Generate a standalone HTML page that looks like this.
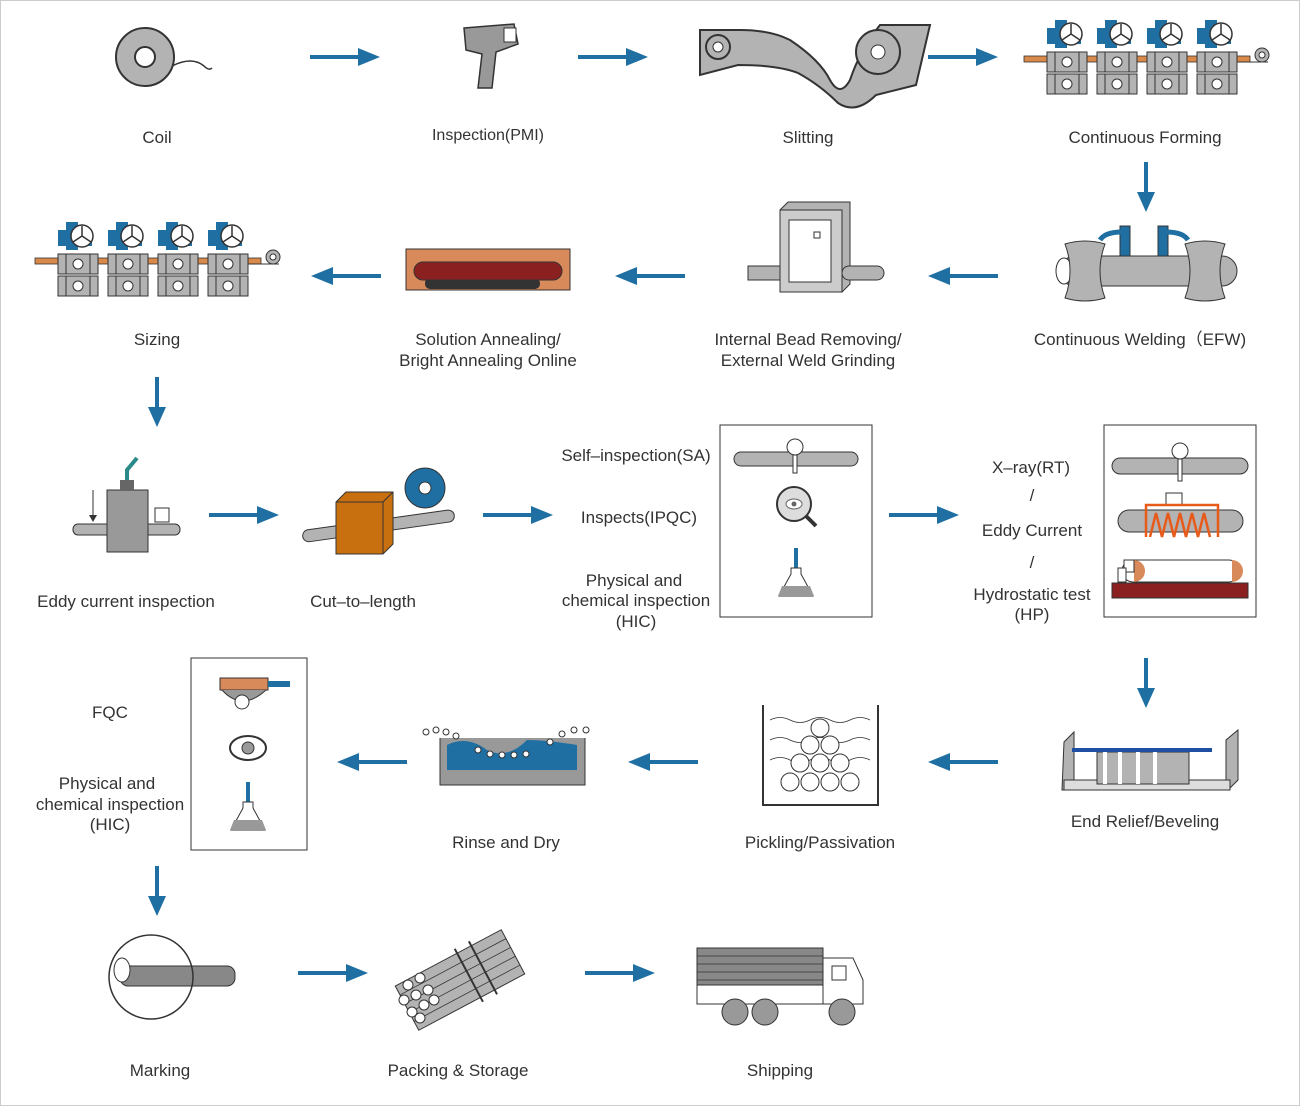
<!DOCTYPE html>
<html><head><meta charset="utf-8"><style>
html,body{margin:0;padding:0;background:#fff}
svg{display:block}
text{font-family:"Liberation Sans",sans-serif;font-size:17px;fill:#333}
</style></head><body>
<svg width="1300" height="1106" viewBox="0 0 1300 1106" xmlns="http://www.w3.org/2000/svg">
<defs>
<g id="ar"><rect x="0" y="-2" width="52" height="4" fill="#1f6fa3"/><polygon points="48,-9 70,0 48,9" fill="#1f6fa3"/></g>
<g id="ad"><rect x="-2" y="0" width="4" height="34" fill="#1f6fa3"/><polygon points="-9,30 9,30 0,50" fill="#1f6fa3"/></g>
<g id="unit">
<path d="M8,0 h12 v8 h14 v16 h-14 v4 h-12 v-4 h-8 v-16 h8z" fill="#1f6fa3"/>
<circle cx="24" cy="14" r="11" fill="#fff" stroke="#333" stroke-width="1.5"/>
<path d="M24,14 v-10 M24,14 l-9,6 M24,14 l9,6" stroke="#333" stroke-width="1.5"/>
<rect x="0" y="32" width="40" height="20" fill="#b3b3b3" stroke="#333"/>
<rect x="0" y="54" width="40" height="20" fill="#b3b3b3" stroke="#333"/>
<path d="M8,32 v20 M32,32 v20 M8,54 v20 M32,54 v20" stroke="#333"/>
<circle cx="20" cy="42" r="5" fill="#fff" stroke="#333"/><circle cx="20" cy="64" r="5" fill="#fff" stroke="#333"/>
</g>
<g id="rolls">
<rect x="0" y="39" width="226" height="6" fill="#d98a4a" stroke="#333" stroke-width=".8"/>
<use href="#unit" x="23" y="3"/><use href="#unit" x="73" y="3"/><use href="#unit" x="123" y="3"/><use href="#unit" x="173" y="3"/>
<circle cx="238" cy="38" r="7" fill="#b3b3b3" stroke="#333"/><circle cx="238" cy="38" r="3" fill="#fff" stroke="#333"/>
<path d="M214,45 H244" stroke="#333"/>
</g>
<g id="pipe"><rect x="0" y="0" width="124" height="14" rx="7" fill="#b3b3b3" stroke="#333"/><ellipse cx="6" cy="7" rx="4" ry="7" fill="#b3b3b3" stroke="#333"/></g>
<g id="flask"><rect x="-2" y="0" width="4" height="26" fill="#1f6fa3"/><path d="M-5,20 h10 v6 l12,22 h-34 l12,-22z" fill="#fff" stroke="#333"/><path d="M-14,38 h28 l4,10 h-36z" fill="#999"/></g>
</defs>
<rect x=".5" y=".5" width="1299" height="1105" fill="#fff" stroke="#ccc"/>

<!-- arrows -->
<use href="#ar" x="310" y="57"/><use href="#ar" x="578" y="57"/><use href="#ar" x="928" y="57"/>
<use href="#ad" x="1146" y="162"/>
<use href="#ar" transform="translate(998,276) scale(-1,1)"/><use href="#ar" transform="translate(685,276) scale(-1,1)"/><use href="#ar" transform="translate(381,276) scale(-1,1)"/>
<use href="#ad" x="157" y="377"/>
<use href="#ar" x="209" y="515"/><use href="#ar" x="483" y="515"/><use href="#ar" x="889" y="515"/>
<use href="#ad" x="1146" y="658"/>
<use href="#ar" transform="translate(998,762) scale(-1,1)"/><use href="#ar" transform="translate(698,762) scale(-1,1)"/><use href="#ar" transform="translate(407,762) scale(-1,1)"/>
<use href="#ad" x="157" y="866"/>
<use href="#ar" x="298" y="973"/><use href="#ar" x="585" y="973"/>

<!-- coil -->
<circle cx="145" cy="57" r="29" fill="#b3b3b3" stroke="#333" stroke-width="2"/><circle cx="145" cy="57" r="10" fill="#fff" stroke="#333" stroke-width="2"/>
<path d="M172,66 q20,-10 32,0 q5,5 8,2" fill="none" stroke="#333" stroke-width="1.5"/>
<!-- gun -->
<path d="M464,28 l50,-4 l4,20 l-22,8 l-4,36 h-14 l4,-34 l-16,-4z" fill="#999" stroke="#333" stroke-width="1.5"/><rect x="504" y="28" width="12" height="14" fill="#fff" stroke="#333"/>
<!-- slitting -->
<path d="M700,30 l40,0 q30,0 50,10 q30,20 40,40 q10,18 20,0 q10,-30 30,-55 l50,0 l-14,60 l-40,10 q-20,20 -38,8 q-18,-18 -40,-30 q-20,-8 -60,-8 l-38,10z" fill="#b3b3b3" stroke="#333" stroke-width="2"/>
<circle cx="718" cy="47" r="12" fill="#b3b3b3" stroke="#333" stroke-width="2"/><circle cx="718" cy="47" r="5" fill="#fff" stroke="#333"/>
<circle cx="878" cy="52" r="22" fill="#b3b3b3" stroke="#333" stroke-width="2"/><circle cx="878" cy="52" r="7" fill="#fff" stroke="#333"/>
<!-- forming & sizing -->
<use href="#rolls" x="1024" y="17"/>
<use href="#rolls" x="35" y="219"/>
<!-- welding -->
<rect x="1060" y="256" width="177" height="30" rx="15" fill="#b3b3b3" stroke="#333"/><ellipse cx="1064" cy="271" rx="8" ry="13" fill="#fff" stroke="#333"/>
<path d="M1065,244 q20,-6 40,0 q-10,27 0,54 q-20,6 -40,0 q10,-27 0,-54z" fill="#b3b3b3" stroke="#333"/>
<path d="M1185,244 q20,-6 40,0 q-10,27 0,54 q-20,6 -40,0 q10,-27 0,-54z" fill="#b3b3b3" stroke="#333"/>
<rect x="1120" y="226" width="10" height="30" fill="#1f6fa3" stroke="#333"/><rect x="1158" y="226" width="10" height="30" fill="#1f6fa3" stroke="#333"/>
<path d="M1100,240 q5,-8 22,-8 M1188,240 q-5,-8 -22,-8" stroke="#1f6fa3" stroke-width="5" fill="none"/>
<!-- bead removing -->
<path d="M780,210 l8,-8 h62 v82 l-8,8z" fill="#b3b3b3" stroke="#333"/><rect x="780" y="210" width="62" height="82" fill="#ccc" stroke="#333"/>
<rect x="789" y="220" width="42" height="62" fill="#fff" stroke="#333"/><rect x="814" y="232" width="6" height="6" fill="#fff" stroke="#333"/>
<rect x="748" y="266" width="32" height="14" fill="#b3b3b3" stroke="#333"/><rect x="842" y="266" width="42" height="14" rx="7" fill="#b3b3b3" stroke="#333"/>
<!-- annealing -->
<rect x="406" y="249" width="164" height="41" fill="#d98a5a" stroke="#333"/>
<rect x="425" y="278" width="115" height="11" rx="5" fill="#333"/>
<rect x="414" y="262" width="148" height="18" rx="9" fill="#8b2020" stroke="#333"/>
<!-- eddy -->
<rect x="73" y="524" width="107" height="11" rx="5" fill="#b3b3b3" stroke="#333"/>
<rect x="107" y="490" width="41" height="62" fill="#999" stroke="#333"/><rect x="120" y="480" width="14" height="10" fill="#666"/><path d="M127,480 v-10 l10,-12" stroke="#2a8a8a" stroke-width="4" fill="none"/>
<rect x="155" y="508" width="14" height="14" fill="#fff" stroke="#333"/><path d="M93,490 v30" stroke="#333"/><polygon points="89,515 97,515 93,522" fill="#333"/>
<!-- cut -->
<rect x="302" y="520" width="153" height="12" rx="6" fill="#b3b3b3" stroke="#333" transform="rotate(-8 378 526)"/>
<circle cx="425" cy="488" r="20" fill="#1f6fa3" stroke="#333"/><circle cx="425" cy="488" r="6" fill="#fff" stroke="#333"/>
<path d="M336,502 l10,-10 h47 v52 l-10,10 h-47z" fill="#c8700f" stroke="#333"/><path d="M336,502 h47 v52 M383,502 l10,-10" stroke="#333" fill="none"/>
<!-- SA box -->
<rect x="720" y="425" width="152" height="192" fill="#fff" stroke="#333"/>
<rect x="734" y="452" width="124" height="14" rx="7" fill="#b3b3b3" stroke="#333"/><circle cx="795" cy="447" r="8" fill="#fff" stroke="#333"/><rect x="793" y="455" width="4" height="18" fill="#fff" stroke="#333"/>
<circle cx="794" cy="504" r="17" fill="#ddd" stroke="#333" stroke-width="2"/><path d="M806,516 l10,10" stroke="#333" stroke-width="4"/><ellipse cx="794" cy="504" rx="8" ry="5" fill="#fff" stroke="#666"/><circle cx="794" cy="504" r="2.5" fill="#666"/>
<use href="#flask" x="796" y="548"/>
<!-- HP box -->
<rect x="1104" y="425" width="152" height="192" fill="#fff" stroke="#333"/>
<rect x="1112" y="458" width="136" height="16" rx="8" fill="#b3b3b3" stroke="#333"/><circle cx="1180" cy="451" r="8" fill="#fff" stroke="#333"/><rect x="1178" y="459" width="4" height="22" fill="#fff" stroke="#333"/>
<rect x="1118" y="510" width="125" height="22" rx="11" fill="#b3b3b3" stroke="#333"/>
<rect x="1166" y="493" width="16" height="12" fill="#fff" stroke="#333"/>
<path d="M1146,537 v-32 h72 v32 M1150,537 l6,-24 l6,24 l6,-24 l6,24 l6,-24 l6,24 l6,-24 l6,24 l6,-24 l6,24" stroke="#e85a1a" stroke-width="2.5" fill="none"/>
<rect x="1112" y="583" width="136" height="15" fill="#8b2020" stroke="#333"/>
<rect x="1122" y="560" width="118" height="22" rx="11" fill="#fff" stroke="#333"/>
<path d="M1134,560 a11,11 0 0 1 0,22z" fill="#d98a5a"/><path d="M1232,560 a11,11 0 0 1 0,22z" fill="#d98a5a"/>
<rect x="1124" y="560" width="10" height="12" fill="#fff" stroke="#333"/><rect x="1118" y="568" width="8" height="14" fill="#fff" stroke="#333"/>
<!-- end relief -->
<path d="M1064,742 l10,-10 v50 h152 v-42 l12,-10 v50 l-10,10 h-166z" fill="#b3b3b3" stroke="#333"/>
<rect x="1064" y="780" width="166" height="10" fill="#ddd" stroke="#333"/>
<rect x="1097" y="752" width="92" height="32" fill="#b3b3b3" stroke="#333"/><path d="M1105,752 v32 M1120,752 v32 M1138,752 v32 M1155,752 v32" stroke="#fff" stroke-width="4"/>
<rect x="1072" y="748" width="140" height="4" fill="#1f4fa3"/>
<!-- pickling -->
<path d="M763,705 v100 h115 v-100" fill="#fff" stroke="#333" stroke-width="2"/>
<path d="M770,720 q10,-5 20,0 t20,0 t20,0 t20,0 t20,0 M770,740 q10,-5 20,0 t20,0 t20,0 t20,0 t20,0 M770,760 q10,-5 20,0 t20,0 t20,0 t20,0 t20,0" fill="none" stroke="#333" stroke-width=".8"/>
<g fill="#fff" stroke="#333"><circle cx="820" cy="728" r="9"/><circle cx="810" cy="745" r="9"/><circle cx="830" cy="745" r="9"/><circle cx="800" cy="763" r="9"/><circle cx="820" cy="763" r="9"/><circle cx="840" cy="763" r="9"/><circle cx="790" cy="782" r="9"/><circle cx="810" cy="782" r="9"/><circle cx="830" cy="782" r="9"/><circle cx="850" cy="782" r="9"/></g>
<!-- rinse -->
<path d="M440,738 v47 h145 v-47" fill="#999" stroke="#333"/>
<path d="M447,745 q20,-10 40,5 q20,10 40,-10 q20,0 50,5 v25 h-130z" fill="#1f6fa3"/>
<g fill="#fff" stroke="#333"><circle cx="426" cy="732" r="3"/><circle cx="436" cy="730" r="3"/><circle cx="446" cy="732" r="3"/><circle cx="456" cy="736" r="3"/><circle cx="478" cy="750" r="3"/><circle cx="490" cy="754" r="3"/><circle cx="502" cy="755" r="3"/><circle cx="514" cy="755" r="3"/><circle cx="526" cy="754" r="3"/><circle cx="550" cy="742" r="3"/><circle cx="562" cy="734" r="3"/><circle cx="574" cy="730" r="3"/><circle cx="586" cy="730" r="3"/></g>
<!-- FQC box -->
<rect x="191" y="658" width="116" height="192" fill="#fff" stroke="#333"/>
<rect x="220" y="678" width="48" height="12" fill="#d98a5a" stroke="#333"/><rect x="268" y="681" width="22" height="6" fill="#1f6fa3"/>
<path d="M222,690 q20,22 44,0" fill="#999" stroke="#333"/><circle cx="242" cy="702" r="7" fill="#fff" stroke="#333"/>
<ellipse cx="248" cy="748" rx="18" ry="12" fill="#fff" stroke="#333" stroke-width="2"/><circle cx="248" cy="748" r="6" fill="#999" stroke="#333"/>
<use href="#flask" x="248" y="782"/>
<!-- marking -->
<rect x="120" y="966" width="115" height="20" rx="8" fill="#888" stroke="#333"/>
<circle cx="151" cy="977" r="42" fill="none" stroke="#333" stroke-width="1.5"/>
<ellipse cx="122" cy="970" rx="8" ry="12" fill="#fff" stroke="#333"/>
<!-- packing -->
<g transform="rotate(-28 460 980)">
<rect x="400" y="955" width="120" height="50" fill="#b3b3b3" stroke="#333"/>
<path d="M400,965 h120 M400,975 h120 M400,985 h120 M400,995 h120" stroke="#333" stroke-width=".8"/>
<path d="M470,950 v60 M486,950 v60" stroke="#333" stroke-width="2"/>
</g>
<g fill="#fff" stroke="#333"><circle cx="408" cy="985" r="5"/><circle cx="416" cy="995" r="5"/><circle cx="424" cy="1005" r="5"/><circle cx="412" cy="1012" r="5"/><circle cx="404" cy="1000" r="5"/><circle cx="420" cy="978" r="5"/><circle cx="428" cy="990" r="5"/><circle cx="434" cy="1000" r="5"/><circle cx="420" cy="1018" r="5"/></g>
<!-- truck -->
<rect x="697" y="948" width="126" height="37" fill="#888" stroke="#333"/>
<path d="M697,956 h126 M697,964 h126 M697,972 h126 M697,980 h126" stroke="#333" stroke-width=".8"/>
<path d="M823,958 h30 l10,22 v24 h-40z" fill="#fff" stroke="#333"/><rect x="832" y="966" width="14" height="14" fill="#fff" stroke="#333"/>
<rect x="697" y="985" width="126" height="19" fill="#fff" stroke="#333"/>
<g fill="#999" stroke="#333"><circle cx="735" cy="1012" r="13"/><circle cx="765" cy="1012" r="13"/><circle cx="842" cy="1012" r="13"/></g>

<!-- labels -->
<g text-anchor="middle">
<text x="157" y="143">Coil</text>
<text x="488" y="140" style="font-size:16px">Inspection(PMI)</text>
<text x="808" y="143">Slitting</text>
<text x="1145" y="143">Continuous Forming</text>
<text x="157" y="345">Sizing</text>
<text x="488" y="345">Solution Annealing/</text><text x="488" y="366">Bright Annealing Online</text>
<text x="808" y="345">Internal Bead Removing/</text><text x="808" y="366">External Weld Grinding</text>
<text x="1140" y="345">Continuous Welding（EFW)</text>
<text x="126" y="607">Eddy current inspection</text>
<text x="363" y="607">Cut–to–length</text>
<text x="636" y="461">Self–inspection(SA)</text>
<text x="639" y="523">Inspects(IPQC)</text>
<text x="634" y="586">Physical and</text><text x="636" y="606">chemical inspection</text><text x="636" y="627">(HIC)</text>
<text x="1031" y="473">X–ray(RT)</text><text x="1032" y="501">/</text>
<text x="1032" y="536">Eddy Current</text><text x="1032" y="568">/</text>
<text x="1032" y="600">Hydrostatic test</text><text x="1032" y="620">(HP)</text>
<text x="1145" y="827">End Relief/Beveling</text>
<text x="820" y="848">Pickling/Passivation</text>
<text x="506" y="848">Rinse and Dry</text>
<text x="110" y="718">FQC</text>
<text x="107" y="789">Physical and</text><text x="110" y="810">chemical inspection</text><text x="110" y="830">(HIC)</text>
<text x="160" y="1076">Marking</text>
<text x="458" y="1076">Packing &amp; Storage</text>
<text x="780" y="1076">Shipping</text>
</g>
</svg>
</body></html>
